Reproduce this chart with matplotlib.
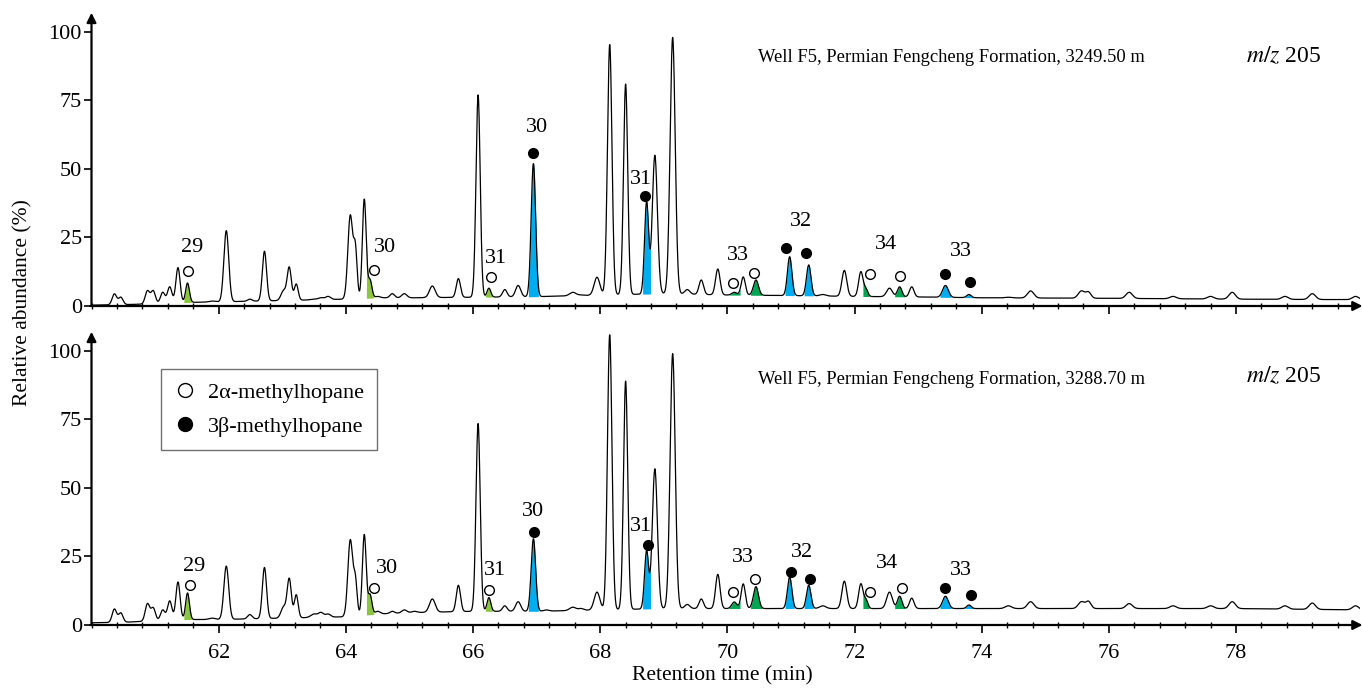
import numpy as np
import matplotlib
matplotlib.use("Agg")
import matplotlib.pyplot as plt
from matplotlib.lines import Line2D

plt.rcParams['font.family'] = ['Liberation Serif', 'DejaVu Serif']
plt.rcParams['mathtext.fontset'] = 'stix'

# peak retention times (min), shared by both samples, and peak widths (sigma, min)
peak_t = [60.36, 60.46, 60.88, 60.97, 61.12, 61.23, 61.36, 61.51, 61.90, 62.12,
          62.49, 62.72, 63.02, 63.11, 63.22, 63.50, 63.61, 63.72, 64.07, 64.15,
          64.29, 64.38, 64.50, 64.73, 64.92, 65.08, 65.36, 65.77, 66.08, 66.25,
          66.50, 66.71, 66.95, 67.15, 67.57, 67.70, 67.95, 68.15, 68.40, 68.73,
          68.86, 69.14, 69.37, 69.59, 69.85, 70.11, 70.25, 70.45, 70.98, 71.28,
          71.50, 71.84, 72.10, 72.18, 72.55, 72.71, 72.90, 73.43, 73.80, 74.42,
          74.77, 75.57, 75.68, 76.32, 77.01, 77.60, 77.94, 78.77, 79.20, 79.88]
peak_w = [.035, .035, .035, .035, .035, .035, .033, .030, .050, .038,
          .035, .033, .040, .033, .030, .050, .040, .040, .038, .028,
          .030, .030, .040, .035, .040, .040, .045, .033, .033, .030,
          .035, .040, .035, .040, .050, .040, .045, .035, .033, .032,
          .040, .040, .040, .035, .035, .040, .033, .040, .035, .035,
          .050, .038, .035, .030, .045, .035, .035, .045, .035, .050,
          .050, .050, .040, .050, .050, .050, .050, .050, .050, .050]
# apex heights (% relative abundance)
top_h = [4.4, 3.2, 5.5, 5.5, 5.0, 7.0, 14, 8.4, 1.8, 27.5,
         2.5, 20, 5.5, 14, 8, 2.5, 3, 3.5, 33, 20,
         39, 9.5, 3.5, 4.5, 4.5, 3, 7.3, 10, 77, 6.5,
         6, 7.5, 52, 3.5, 5, 4, 10.5, 95.5, 81, 38,
         55, 98, 6, 9.5, 13.5, 5, 10.6, 9.5, 18, 15,
         4.2, 13, 12.5, 6, 6.5, 7, 7, 7.5, 4.2, 3.2,
         5.5, 5.5, 5, 5, 3.5, 3.5, 5, 3.5, 4.5, 3.5]
bot_h = [5.8, 4.4, 7.7, 6.2, 5.5, 8.8, 15.7, 11.7, 2.5, 21.5,
         3.8, 21, 6.5, 16.8, 11, 4, 4.5, 4, 31, 15.5,
         33, 11, 5, 5, 5.5, 5, 9.5, 14.5, 73.5, 10,
         7, 8.5, 31.5, 5.5, 6.5, 6, 12, 106, 89, 27,
         57, 99, 7.5, 9.5, 18.5, 8.4, 15, 14, 17.5, 14.5,
         7, 16, 15, 9, 12, 10.5, 9.8, 10.5, 7.3, 7,
         8.5, 8.5, 8.5, 7.8, 7, 7, 8.5, 7, 8, 7]

# baseline (drift)
base_t = [60, 60.5, 61, 61.5, 62, 63, 64, 64.5, 65, 66, 67, 68, 69, 70, 71, 72, 73, 74, 76, 78, 80]
top_base = [0.3, 0.5, 0.8, 1.3, 1.5, 2.0, 2.5, 3.0, 3.0, 3.2, 3.4, 4.0, 4.5, 4.0, 3.8, 3.5, 3.3, 3.0, 2.8, 2.5, 2.3]
bot_base = [0.8, 1.0, 1.5, 2.0, 2.0, 2.5, 3.0, 4.0, 4.5, 5.0, 5.0, 5.5, 6.0, 6.0, 6.0, 6.0, 6.0, 6.0, 6.0, 6.0, 5.5]

# highlighted (methylhopane) peaks
fill_t = [61.51, 64.38, 66.25, 66.95, 68.73, 70.11, 70.45, 70.98, 71.28, 72.18, 72.71, 73.43, 73.80]
fill_hw = [0.06, 0.06, 0.055, 0.08, 0.065, 0.09, 0.09, 0.075, 0.075, 0.05, 0.08, 0.09, 0.08]
fill_kind = ['lg', 'lg', 'lg', 'b', 'b', 'dg', 'dg', 'b', 'b', 'dg', 'dg', 'b', 'b']
colors = {'lg': '#8cc63f', 'dg': '#00a651', 'b': '#00aeef'}

# 2alpha (open) / 3beta (filled) symbols
mk_filled = [False, False, False, True, True, False, False, True, True, False, False, True, True]
top_mk_x = [61.51, 64.45, 66.28, 66.94, 68.71, 70.09, 70.42, 70.93, 71.24, 72.24, 72.71, 73.43, 73.81]
top_mk_y = [12.8, 13.1, 10.6, 55.8, 40, 8.4, 12, 21.2, 19.3, 11.7, 11, 11.7, 8.8]
bot_mk_x = [61.55, 64.45, 66.25, 66.96, 68.75, 70.09, 70.44, 71.0, 71.3, 72.24, 72.74, 73.43, 73.83]
bot_mk_y = [14.6, 13.5, 12.8, 34, 29.2, 12, 16.8, 19.3, 16.8, 12, 13.5, 13.5, 11]

# carbon number labels
lab_txt = ['29', '30', '31', '30', '31', '33', '32', '34', '33']
top_lab_x = [61.58, 64.62, 66.36, 67.0, 68.64, 70.17, 71.16, 72.49, 73.67]
top_lab_y = [21.2, 21.2, 17.2, 65, 46, 18.6, 30.7, 22.3, 20]
bot_lab_x = [61.61, 64.64, 66.35, 66.94, 68.64, 70.24, 71.18, 72.51, 73.67]
bot_lab_y = [21.2, 20.8, 20, 41.6, 36, 24.5, 26.3, 22.6, 20]

samples = ['Well F5, Permian Fengcheng Formation, 3249.50 m',
           'Well F5, Permian Fengcheng Formation, 3288.70 m']

t = np.arange(60, 79.95, 0.004)


def make_trace(heights, bt, bv):
    base = np.interp(t, bt, bv)
    y = base.copy()
    for c, h, s in zip(peak_t, heights, peak_w):
        amp = h - np.interp(c, bt, bv)
        y += amp * np.exp(-0.5 * ((t - c) / s) ** 2)
    return y, base


fig = plt.figure(figsize=(13.62, 6.88), dpi=100)
L = 91.5 / 1362
W = (1360 - 91.5) / 1362
H = 293.2 / 688
ax1 = fig.add_axes([L, 382 / 688, W, H])
ax2 = fig.add_axes([L, 63 / 688, W, H])

panels = [(ax1, top_h, top_base, top_mk_x, top_mk_y, top_lab_x, top_lab_y),
          (ax2, bot_h, bot_base, bot_mk_x, bot_mk_y, bot_lab_x, bot_lab_y)]

for i, (ax, hh, bb, mx, my, lx, ly) in enumerate(panels):
    y, base = make_trace(hh, base_t, bb)
    for c, hw, k in zip(fill_t, fill_hw, fill_kind):
        m = (t >= c - hw) & (t <= c + hw)
        ax.fill_between(t[m], base[m], y[m], color=colors[k], lw=0, zorder=2)
    ax.plot(t, y, color='k', lw=0.9, zorder=3)
    for x0, y0, f in zip(mx, my, mk_filled):
        ax.plot(x0, y0, 'o', ms=7, mec='k', mew=1, mfc='k' if f else 'white', zorder=4)
    for s, x0, y0 in zip(lab_txt, lx, ly):
        ax.text(x0, y0, s, ha='center', va='center', fontsize=16, zorder=4)

    ax.set_xlim(60, 79.95)
    ax.set_ylim(0, 107)
    for sp in ['top', 'right', 'left', 'bottom']:
        ax.spines[sp].set_visible(False)
    ax.annotate('', xy=(0, 1), xytext=(0, 0), xycoords='axes fraction',
                arrowprops=dict(arrowstyle='-|>', lw=1.6, color='k', mutation_scale=14,
                                shrinkA=0, shrinkB=0))
    ax.annotate('', xy=(1.002, 0), xytext=(-0.001, 0), xycoords='axes fraction',
                arrowprops=dict(arrowstyle='-|>', lw=1.6, color='k', mutation_scale=14,
                                shrinkA=0, shrinkB=0))
    ax.set_yticks([0, 25, 50, 75, 100])
    ax.set_xticks(np.arange(62, 79, 2))
    ax.set_xticks(np.arange(60, 79.9, 0.4), minor=True)
    ax.tick_params(axis='y', direction='out', length=5, width=1.2, labelsize=16, pad=2)
    ax.tick_params(axis='x', which='major', direction='out', length=6, width=1.2, labelsize=16, pad=8)
    ax.tick_params(axis='x', which='minor', direction='inout', length=4, width=1)
    if i == 0:
        ax.tick_params(axis='x', labelbottom=False)

fig.text(758 / 1362, 1 - 57 / 688, samples[0], fontsize=13.3, va='center', ha='left')
fig.text(758 / 1362, 1 - 380 / 688, samples[1], fontsize=13.3, va='center', ha='left')
fig.text(1246 / 1362, 1 - 57 / 688, '$m/z$ 205', fontsize=17, va='center', ha='left')
fig.text(1246 / 1362, 1 - 377 / 688, '$m/z$ 205', fontsize=17, va='center', ha='left')

fig.text(23 / 1362, 1 - 303 / 688, 'Relative abundance (%)', rotation=90,
         fontsize=15.5, va='center', ha='center')
fig.text(722 / 1362, 1 - 676 / 688, 'Retention time (min)', fontsize=15.5,
         va='center', ha='center')

handles = [Line2D([], [], ls='none', marker='o', ms=10, mec='k', mew=1, mfc='white'),
           Line2D([], [], ls='none', marker='o', ms=10, mec='k', mew=1, mfc='k')]
leg = ax2.legend(handles, ['2\u03b1-methylhopane', '3\u03b2-methylhopane'],
                 loc='upper left', bbox_to_anchor=(161 / 1362, 1 - 369 / 688),
                 bbox_transform=fig.transFigure, fontsize=16, frameon=True,
                 fancybox=False, edgecolor='0.3', handlelength=1.0,
                 handletextpad=0.5, borderpad=0.6, labelspacing=0.6,
                 borderaxespad=0)
leg.get_frame().set_linewidth(1.0)

fig.savefig('out.png', dpi=100)
